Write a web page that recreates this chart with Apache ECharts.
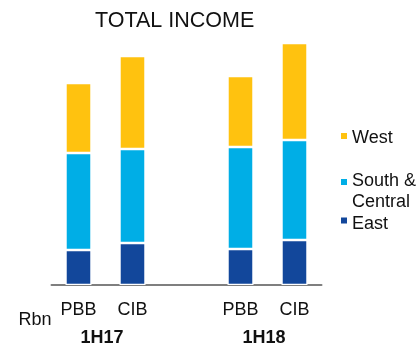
<!DOCTYPE html>
<html>
<head>
<meta charset="utf-8">
<script src="https://cdn.jsdelivr.net/npm/echarts@6/dist/echarts.min.js"></script>
<style>html,body{margin:0;padding:0;background:#fff}#c{width:416px;height:347px}</style>
</head>
<body>
<div id="c"></div>
<script>
var titleText = 'TOTAL INCOME';
var categories = ['PBB', 'CIB', '', 'PBB', 'CIB'];
var groupLabels = ['1H17', '1H18'];
var unitLabel = 'Rbn';
var seriesNames = ['East', 'South & Central', 'West'];
var legendLabels = ['West', 'South &\nCentral', 'East'];
var eastValues = [3.5, 4.2, null, 3.6, 4.5];
var southValues = [9.7, 9.4, null, 10.2, 10.0];
var westValues = [7.0, 9.3, null, 7.1, 9.7];
var colors = {East: '#12479B', 'South & Central': '#00AEE6', West: '#FFC20F'};

var FONT = 'Liberation Sans, Arial, sans-serif';
var chart = echarts.init(document.getElementById('c'));
var dataSets = [eastValues, southValues, westValues];

var graphics = [];
[[102, groupLabels[0]], [264, groupLabels[1]]].forEach(function (g) {
  graphics.push({type: 'text', x: g[0], y: 338, style: {text: g[1], font: 'bold 18px ' + FONT, fill: '#111', align: 'center', verticalAlign: 'middle'}});
});
graphics.push({type: 'text', x: 35, y: 320, style: {text: unitLabel, font: '18px ' + FONT, fill: '#111', align: 'center', verticalAlign: 'middle'}});
var legendPos = [{m: 136, t: 138}, {m: 182, t: 181}, {m: 220.5, t: 224}];
var legendSeries = ['West', 'South & Central', 'East'];
legendLabels.forEach(function (lab, i) {
  graphics.push({type: 'rect', shape: {x: 341, y: legendPos[i].m - 3, width: 6, height: 6}, style: {fill: colors[legendSeries[i]]}});
  graphics.push({type: 'text', x: 352, y: legendPos[i].t - 10.4, style: {text: lab, font: '18px ' + FONT, lineHeight: 20.8, fill: '#111', align: 'left', verticalAlign: 'top'}});
});

chart.setOption({
  animation: false,
  title: {text: titleText, left: 95, top: 10, padding: 0, textStyle: {fontFamily: FONT, fontSize: 21.5, fontWeight: 'normal', color: '#111'}},
  grid: {left: 51.5, right: 94.5, top: 35, bottom: 62, containLabel: false},
  xAxis: {
    type: 'category', data: categories,
    axisLine: {lineStyle: {color: '#7f7f7f', width: 2}},
    axisTick: {show: false},
    axisLabel: {margin: 16, fontFamily: FONT, fontSize: 18, color: '#111'}
  },
  yAxis: {type: 'value', min: 0, max: 25, show: false, splitLine: {show: false}},
  series: seriesNames.map(function (n, i) {
    return {
      name: n, type: 'bar', stack: 'total', barWidth: 26, data: dataSets[i],
      itemStyle: {color: colors[n], borderColor: '#fff', borderWidth: 1.2}
    };
  }),
  graphic: graphics
});
</script>
</body>
</html>
